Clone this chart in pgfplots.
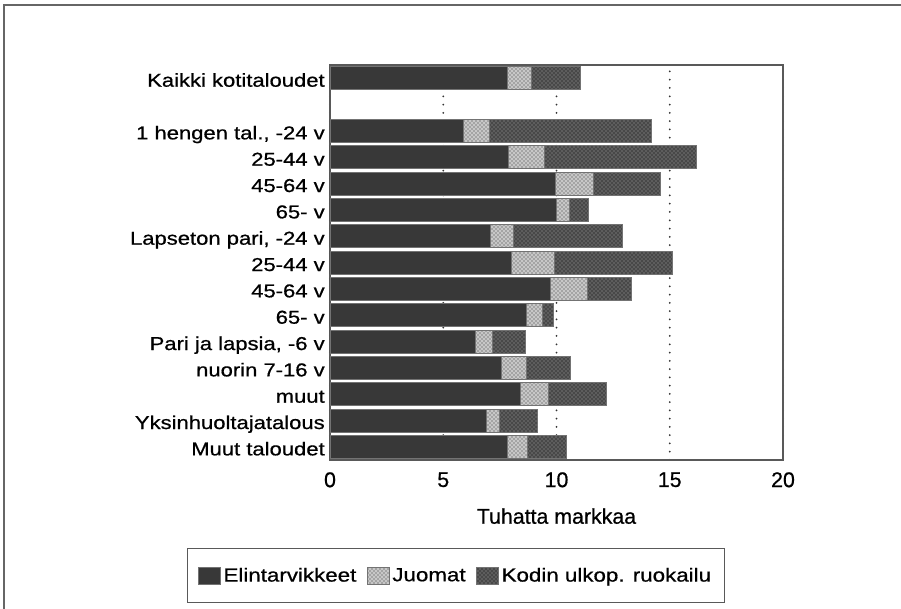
\documentclass[border=0pt]{standalone}
\usepackage{fontspec}
\setmainfont{Liberation Sans}[FakeBold=0.7]
\newfontfamily\labfont{Liberation Sans}[FakeStretch=1.18,FakeBold=0.7]
\usepackage{pgfplots}
\pgfplotsset{compat=1.18}
\usetikzlibrary{patterns}
\definecolor{elin}{HTML}{383838}
\definecolor{kodin}{HTML}{484848}
\begin{document}
\begin{tikzpicture}
\useasboundingbox (0,0) rectangle (675.75pt,456.75pt);
\draw[black!60, line width=0.9pt] (3pt,0pt) -- (3pt,453pt) -- (675.75pt,453pt);
\begin{axis}[
  at={(247.5pt,111.75pt)}, anchor=south west,
  scale only axis, width=339.75pt, height=296.25pt,
  xbar stacked, bar width=0.87,
  xmin=0, xmax=20, ymin=-0.5, ymax=14.5,
  xtick={0,5,10,15,20},
  ytick={0,1,2,3,4,5,6,7,8,9,10,11,12,14},
  yticklabels={Muut taloudet,Yksinhuoltajatalous,muut,nuorin 7-16 v,{Pari ja lapsia, -6 v},65- v,45-64 v,25-44 v,{Lapseton pari, -24 v},65- v,45-64 v,25-44 v,{1 hengen tal., -24 v},Kaikki kotitaloudet},
  major tick length=0pt,
  axis line style={black!65, line width=0.8pt},
  xmajorgrids,
  grid style={black!80, line width=1.5pt, line cap=round, dash pattern=on 0pt off 6.2pt},
  /pgf/number format/assume math mode=true,
  xticklabel style={font=\fontsize{16}{18}\selectfont, inner sep=0pt, yshift=-9pt},
  yticklabel style={font=\fontsize{14}{16}\labfont, anchor=base east, inner sep=0pt, xshift=-3.75pt, yshift=-6.4pt},
  xlabel={Tuhatta markkaa},
  xlabel style={font=\fontsize{16}{18}\selectfont, at={(axis description cs:0.5,0)}, anchor=north, inner sep=0pt, yshift=-36pt},
  legend columns=3,
  legend style={at={(-0.3157,-0.2228)}, anchor=north west, draw=black!65, line width=0.8pt,
    font=\fontsize{14.2}{16}\labfont, inner xsep=8pt, inner ysep=12.5pt,
    nodes={inner sep=2pt},
    /tikz/every even column/.append style={column sep=6pt}},
  legend image code/.code={\draw[#1, draw=black!55, line width=0.5pt] (0pt,-6.3pt) rectangle (16.5pt,6.3pt);},
]
\addplot[fill=elin, draw=black!55, line width=0.5pt] coordinates {
(7.83,14) (5.89,12) (7.87,11) (9.93,10) (10.0,9) (7.09,8) (7.99,7) (9.74,6) (8.68,5) (6.40,4) (7.55,3) (8.40,2) (6.90,1) (7.83,0)};
\addplot[fill=black!22, draw=black!55, line width=0.5pt, postaction={pattern=crosshatch dots, pattern color=black!80}] coordinates {
(1.04,14) (1.14,12) (1.58,11) (1.70,10) (0.57,9) (1.00,8) (1.91,7) (1.62,6) (0.68,5) (0.75,4) (1.13,3) (1.22,2) (0.59,1) (0.87,0)};
\addplot[fill=kodin, draw=black!55, line width=0.5pt, postaction={pattern=crosshatch dots, pattern color=black!35}] coordinates {
(2.20,14) (7.14,12) (6.74,11) (2.94,10) (0.84,9) (4.82,8) (5.23,7) (1.93,6) (0.50,5) (1.46,4) (1.95,3) (2.59,2) (1.66,1) (1.73,0)};
\legend{Elintarvikkeet,Juomat,Kodin ulkop. ruokailu}
\end{axis}
\end{tikzpicture}
\end{document}
